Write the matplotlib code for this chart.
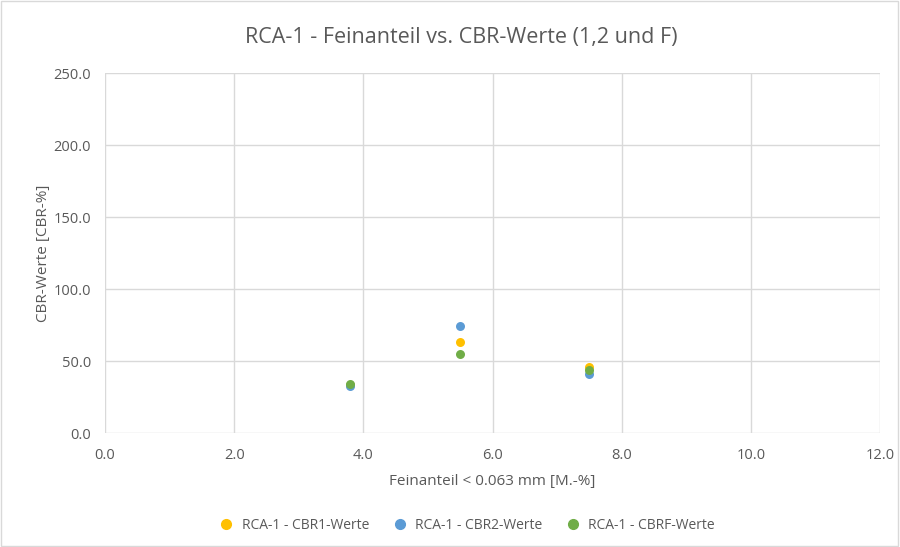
import matplotlib.pyplot as plt
from matplotlib.lines import Line2D

# Daten
feinanteil = [3.8, 5.5, 7.5]
cbr1 = [33.5, 63.0, 46.0]
cbr2 = [32.8, 74.3, 41.3]
cbrf = [34.2, 55.2, 44.0]

serien = ['RCA-1 - CBR1-Werte', 'RCA-1 - CBR2-Werte', 'RCA-1 - CBRF-Werte']
farben = ['#FFC000', '#5B9BD5', '#70AD47']

plt.rcParams['font.family'] = ['Open Sans', 'DejaVu Sans']
textfarbe = '#595959'

fig = plt.figure(figsize=(9, 5.47), dpi=100)
ax = fig.add_axes([0.1167, 0.2084, 0.8611, 0.6581])

for werte, name, farbe in zip([cbr1, cbr2, cbrf], serien, farben):
    ax.scatter(feinanteil, werte, s=42, color=farbe, label=name, zorder=3, linewidths=0)

ax.set_xlim(0, 12)
ax.set_ylim(0, 250)
ax.set_xticks(range(0, 13, 2))
ax.set_yticks(range(0, 251, 50))
ax.set_xticklabels([f'{v:.1f}' for v in range(0, 13, 2)])
ax.set_yticklabels([f'{v:.1f}' for v in range(0, 251, 50)])
ax.grid(True, color='#D9D9D9', linewidth=1)
ax.set_axisbelow(True)
for s in ax.spines.values():
    s.set_visible(False)
ax.tick_params(length=0, colors=textfarbe, labelsize=10.5)
ax.tick_params(axis='y', pad=10)
ax.tick_params(axis='x', pad=11)

fig.text(461 / 900, 1 - 38 / 547, 'RCA-1 - Feinanteil vs. CBR-Werte (1,2 und F)',
         color=textfarbe, fontsize=15.5, ha='center', va='center')
ax.set_xlabel('Feinanteil < 0.063 mm [M.-%]', color=textfarbe, fontsize=11, labelpad=8)
ax.set_ylabel('CBR-Werte [CBR-%]', color=textfarbe, fontsize=11, labelpad=2)

handles = [Line2D([], [], marker='o', linestyle='', color=f, markersize=7) for f in farben]
fig.legend(handles, serien, loc='center', bbox_to_anchor=(0.515, 0.04), ncol=3, frameon=False,
           fontsize=10, labelcolor=textfarbe, handletextpad=0.1, columnspacing=1.2)

# Rahmen um das Diagramm
fig.patches.append(plt.Rectangle((0.001, 0.001), 0.997, 0.997, transform=fig.transFigure,
                                 fill=False, edgecolor='#D9D9D9', linewidth=1))

fig.savefig('out.png', dpi=100)
